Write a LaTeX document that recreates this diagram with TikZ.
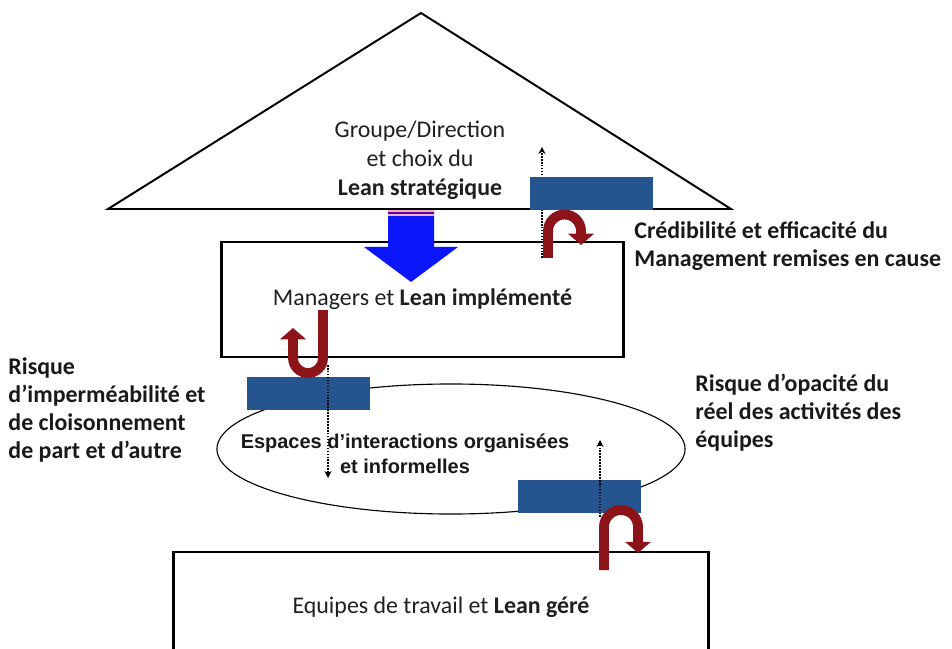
\documentclass[tikz,border=0pt]{standalone}
\usepackage{fontspec}
\setmainfont{Carlito}
\newfontfamily\arialfont{Liberation Sans}
\usetikzlibrary{arrows.meta,positioning,shapes.geometric}
\definecolor{barblue}{RGB}{38,84,142}
\definecolor{darkred}{RGB}{140,20,24}
\definecolor{bigblue}{RGB}{12,22,250}
\definecolor{stripe}{RGB}{236,176,190}

\begin{document}
\begin{tikzpicture}[x=0.025cm,y=-0.025cm,semithick]
	  \tikzstyle{box}=[rectangle,draw=black,line width=2.1pt,font=\fontsize{17}{20.5}\selectfont,text=black!88]
	  \tikzstyle{bar}=[rectangle,fill=barblue,minimum width=3.075cm,minimum height=0.825cm,inner sep=0pt]
	  \tikzstyle{txt}=[font=\fontsize{17}{20.5}\selectfont,align=center,text=black!88]
	  \tikzstyle{note}=[font=\bfseries\fontsize{17}{19.8}\selectfont,align=left,anchor=west,inner sep=0pt,text=black!90]
	  \tikzstyle{uturn}=[draw=darkred,line width=7pt,-{Triangle[width=18pt,length=8pt]}]
	  \tikzstyle{probe}=[densely dotted,line width=1.1pt,-{Stealth[length=5pt,width=5pt]}]

	  \useasboundingbox (0,0) rectangle (952,649);
	  \clip (0,0) rectangle (952,649);
	  \fill[white] (0,0) rectangle (952,649);

	  % roof
	  \coordinate (roofL) at (108,209);
	  \coordinate (roofT) at (421,13);
	  \coordinate (roofR) at (731,209);
	  \draw[line width=1.4pt] (roofL) -- (roofT) -- (roofR) -- cycle;
	  \node[txt] (grp) at (420,160) {Groupe/Direction\\et choix du\\\textbf{Lean stratégique}};

	  % levels
	  \node[box,minimum width=10.025cm,minimum height=2.875cm] (mgr) at (422.5,299.5) {Managers et \textbf{Lean implémenté}};
	  \node[box,minimum width=13.35cm,minimum height=2.75cm] (team) at (441,607) {Equipes de travail et \textbf{Lean géré}};
	  \node[ellipse,draw,line width=0.8pt,minimum width=11.7cm,minimum height=3.25cm] (esp) at (451,449) {};
	  \node[font=\arialfont\bfseries\fontsize{14.2}{17.8}\selectfont,align=center,text=black!90] (esptxt) at (405,454) {Espaces d’interactions organisées\\et informelles};

	  % big arrow
	  \fill[bigblue] (388,210) -- (434,210) -- (434,247) -- (458,247) -- (411,282) -- (364,247) -- (388,247) -- cycle;
	  \fill[stripe] (388,210) rectangle (434,212.5);
	  \fill[violet!80!blue] (388,212.5) rectangle (434,214.5);
	  \fill[stripe] (388,214.5) rectangle (434,216.5);

	  % dotted probes
	  \coordinate (topA) at (542,258);
	  \coordinate (topB) at (542,147);
	  \coordinate (leftA) at (328,365);
	  \coordinate (leftB) at (328,478);
	  \coordinate (rightA) at (600,517);
	  \coordinate (rightB) at (600,440);
	  \draw[probe] (topA) -- (topB);

	  \node[bar] (barTop) at (591.5,193.5) {};
	  \node[bar] (barLeft) at (308.5,393.5) {};
	  \node[bar] (barRight) at (579.5,496.5) {};

	  \draw[probe] (leftA) -- (leftB);
	  \draw[probe] (rightA) -- (rightB);

	  % u-turns
	  \draw[uturn] (548,258) -- (548,231) arc[start angle=180,end angle=360,radius=16.5] -- (581,245);
	  \draw[uturn] (323,310) -- (323,358) arc[start angle=0,end angle=180,radius=15] -- (293,328);
	  \draw[uturn] (604,570) -- (604,527) arc[start angle=180,end angle=360,radius=17] -- (638,553);

	  % notes
	  \node[note] (cred) at (634,246) {Crédibilité et efficacité du\\Management remises en cause};
	  \node[note] (riskL) at (8,410) {Risque\\d’imperméabilité et\\de cloisonnement\\de part et d’autre};
	  \node[note] (riskR) at (695,413) {Risque d’opacité du\\réel des activités des\\équipes};
	\end{tikzpicture}
\end{document}
